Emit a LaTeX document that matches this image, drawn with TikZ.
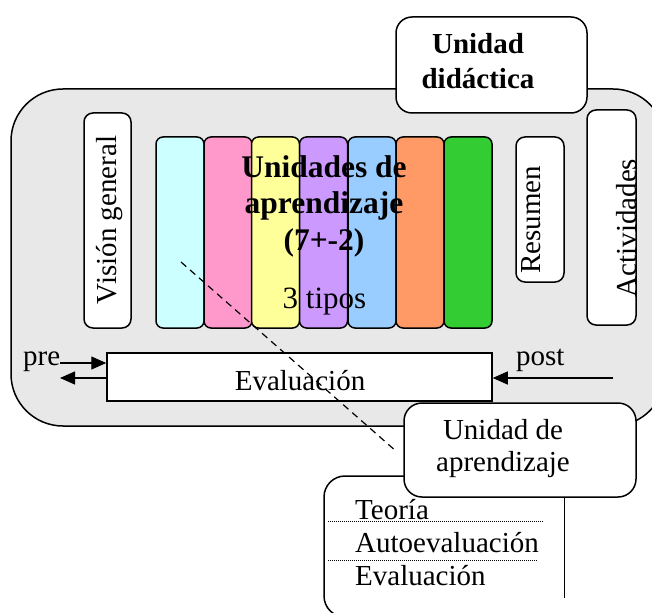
\documentclass[tikz,border=0pt]{standalone}
\usepackage{fontspec}
\setmainfont{Liberation Serif}
\usetikzlibrary{arrows.meta,positioning,calc}

\definecolor{panelgray}{RGB}{232,232,232}
\definecolor{barcyan}{HTML}{CCFFFF}
\definecolor{barpink}{HTML}{FF99CC}
\definecolor{baryellow}{HTML}{FFFF99}
\definecolor{barpurple}{HTML}{CC99FF}
\definecolor{barblue}{HTML}{99CCFF}
\definecolor{barorange}{HTML}{FF9966}
\definecolor{bargreen}{HTML}{33CC33}

\begin{document}
\begin{tikzpicture}[x=1pt, y=-1pt,
    panel/.style={draw, rounded corners=9pt, line width=1.5pt, fill=white, inner sep=0pt},
    bar/.style={draw, rounded corners=7pt, line width=1.5pt, minimum width=48pt, minimum height=191pt, inner sep=0pt},
    txt/.style={font=\fontsize{29}{32}\selectfont, inner sep=0pt, align=center},
    bigtxt/.style={font=\fontsize{31.5}{36.5}\selectfont\bfseries, inner sep=0pt, align=center},
    arrow/.style={-{Triangle[length=15pt,width=13pt]}, line width=1.3pt},
    sep/.style={line width=0.8pt, dash pattern=on 1pt off 1pt}
  ]
    \useasboundingbox (0,0) rectangle (652,612);
    \clip (0,0) rectangle (652,612);

    % outer unit
    \node[panel, rounded corners=52pt, fill=panelgray, minimum width=654pt, minimum height=337pt] (unidad) at (338,257.5) {};
    \node[panel, rounded corners=16pt, minimum width=191pt, minimum height=96pt] (titlebox) at (491.5,65) {};
    \node[bigtxt, font=\fontsize{29}{35}\selectfont\bfseries] (title) at (478,61) {Unidad\\didáctica};

    \node[panel, minimum width=47pt, minimum height=215pt] (vision) at (107.5,220.5) {};
    \node[txt, rotate=90, anchor=base] (visiontxt) at (116,220) {Visión general};

    \node[bar, fill=barcyan]   (b1) at (180,232.5) {};
    \node[bar, fill=barpink]   (b2) at (228,232.5) {};
    \node[bar, fill=baryellow] (b3) at (275.5,232.5) {};
    \node[bar, fill=barpurple] (b4) at (323.5,232.5) {};
    \node[bar, fill=barblue]   (b5) at (372,232.5) {};
    \node[bar, fill=barorange] (b6) at (420,232.5) {};
    \node[bar, fill=bargreen]  (b7) at (468,232.5) {};

    \node[panel, minimum width=48pt, minimum height=145pt] (resumen) at (540,209.5) {};
    \node[txt, rotate=90, anchor=base] (resumentxt) at (540,220) {Resumen};
    \node[panel, minimum width=49pt, minimum height=215pt] (activ) at (611.5,217.5) {};
    \node[txt, rotate=90, anchor=base] (activtxt) at (636,228) {Actividades};

    \node[bigtxt] (uap) at (324,206) {Unidades de\\aprendizaje\\(7+-2)};
    \node[txt, font=\fontsize{31}{34}\selectfont, anchor=base] (tipos) at (324.5,308) {3 tipos};

    % evaluation bar
    \node[draw, fill=white, line width=1.5pt, minimum width=385pt, minimum height=48pt, inner sep=0pt] (evalbox) at (299.5,377) {};
    \node[txt, anchor=base] (evaltxt) at (300,390) {Evaluación};
    \node[txt, anchor=base west] (pre) at (23,365) {pre};
    \node[txt, anchor=base west] (post) at (516,365) {post};

    \coordinate (prein) at (60,363);
    \coordinate (preout) at (60,378);
    \coordinate (postin) at (613,378);
    \draw[arrow] (prein) -- (prein -| evalbox.west);
    \draw[arrow] (preout -| evalbox.west) -- (preout);
    \draw[arrow] (postin) -- (postin -| evalbox.east);

    % learning unit detail
    \draw[line width=1.5pt, rounded corners=21pt] (564,476) -- (324,476) -- (324,617) -- (420,617);
    \draw[line width=0.9pt] (564,476) -- (564,598);
    \node[txt, anchor=base west] (teoria) at (355,519) {Teoría};
    \node[txt, anchor=base west] (autoeval) at (355,552) {Autoevaluación};
    \node[txt, anchor=base west] (evalua) at (355,585) {Evaluación};
    \draw[sep] (328,521) -- (543,521);
    \draw[sep] (328,560) -- (538,560);

    \node[panel, rounded corners=18pt, minimum width=232pt, minimum height=94pt] (udabox) at (520,450) {};
    \node[txt] (uda) at (503,449) {Unidad de\\aprendizaje};

    \coordinate (zoomfrom) at (181,262);
    \coordinate (zoomto) at (397,452);
    \draw[line width=1.2pt, dash pattern=on 7pt off 5pt] (zoomfrom) -- (zoomto);
\end{tikzpicture}
\end{document}
